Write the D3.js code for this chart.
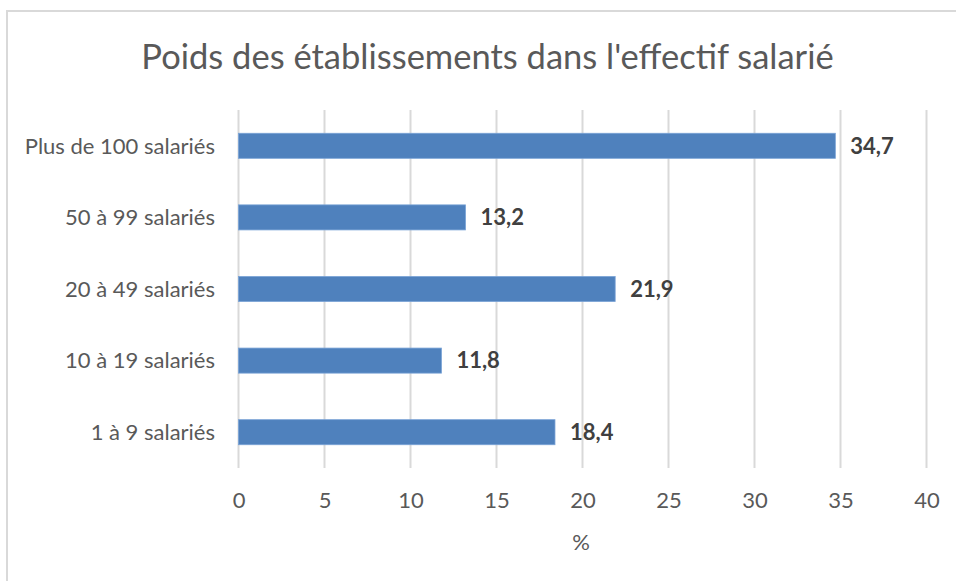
<!DOCTYPE html>
<html>
<head>
<meta charset="utf-8">
<script src="https://cdn.jsdelivr.net/npm/d3@7"></script>
<style>
  html, body { margin: 0; padding: 0; background: #fff; }
  svg { display: block; font-family: Lato, "Open Sans", sans-serif; }
</style>
</head>
<body>
<svg id="chart" width="956" height="581"></svg>
<script>
// Share of establishments in total salaried workforce, by size class (%)
const categories = ["Plus de 100 salariés", "50 à 99 salariés", "20 à 49 salariés", "10 à 19 salariés", "1 à 9 salariés"];
const values = [34.7, 13.2, 21.9, 11.8, 18.4];
const tickValues = [0, 5, 10, 15, 20, 25, 30, 35, 40];
const titleText = "Poids des établissements dans l'effectif salarié";
const axisTitle = "%";

const data = categories.map((c, i) => ({ category: c, value: values[i] }));

const svg = d3.select("#chart");
const plot = { left: 238.5, right: 926.5, top: 110, bottom: 468 };

const x = d3.scaleLinear().domain([0, 40]).range([plot.left, plot.right]);
const y = d3.scaleBand().domain(categories).range([plot.top, plot.bottom])
  .paddingInner(0.65).paddingOuter(0.325);

const fmt = v => d3.format(".1f")(v).replace(".", ",");

// chart frame
svg.append("rect")
  .attr("x", 7).attr("y", 11)
  .attr("width", 1000).attr("height", 700)
  .attr("fill", "#fff")
  .attr("stroke", "#d9d9d9").attr("stroke-width", 2);

// title
svg.append("text")
  .attr("x", 487.5).attr("y", 69)
  .attr("text-anchor", "middle")
  .attr("fill", "#595959")
  .style("font-size", "34.5px")
  .text(titleText);

// vertical gridlines
svg.append("g").selectAll("line")
  .data(tickValues)
  .join("line")
  .attr("x1", d => x(d)).attr("x2", d => x(d))
  .attr("y1", plot.top).attr("y2", plot.bottom)
  .attr("stroke", "#d9d9d9").attr("stroke-width", 2);

// x axis tick labels
const xAxis = d3.axisBottom(x).tickValues(tickValues).tickSize(0).tickPadding(0);
const gx = svg.append("g")
  .attr("transform", `translate(0,${plot.bottom})`)
  .call(xAxis);
gx.select(".domain").remove();
gx.selectAll("text")
  .attr("y", 32).attr("dy", "0.35em")
  .attr("fill", "#595959")
  .style("font-family", "Lato, sans-serif")
  .style("font-size", "22px");

// y axis category labels
const yAxis = d3.axisLeft(y).tickSize(0).tickPadding(0);
const gy = svg.append("g")
  .attr("transform", `translate(215,0)`)
  .call(yAxis);
gy.select(".domain").remove();
gy.selectAll("text")
  .attr("dy", "0.35em")
  .attr("fill", "#595959")
  .style("font-family", "Lato, sans-serif")
  .style("font-size", "22px");

// bars
svg.append("g").selectAll("rect")
  .data(data)
  .join("rect")
  .attr("x", x(0))
  .attr("y", d => y(d.category))
  .attr("width", d => x(d.value) - x(0))
  .attr("height", y.bandwidth())
  .attr("fill", "#4f81bd")
  .attr("stroke", "#7aa3d6").attr("stroke-width", 0.8);

// value labels
svg.append("g").selectAll("text")
  .data(data)
  .join("text")
  .attr("x", d => x(d.value) + 15)
  .attr("y", d => y(d.category) + y.bandwidth() / 2)
  .attr("dy", "0.35em")
  .attr("fill", "#404040")
  .style("font-weight", "bold")
  .style("font-size", "22px")
  .text(d => fmt(d.value));

// axis title
svg.append("text")
  .attr("x", 581).attr("y", 542)
  .attr("dy", "0.35em")
  .attr("text-anchor", "middle")
  .attr("fill", "#595959")
  .style("font-size", "22px")
  .text(axisTitle);
</script>
</body>
</html>
